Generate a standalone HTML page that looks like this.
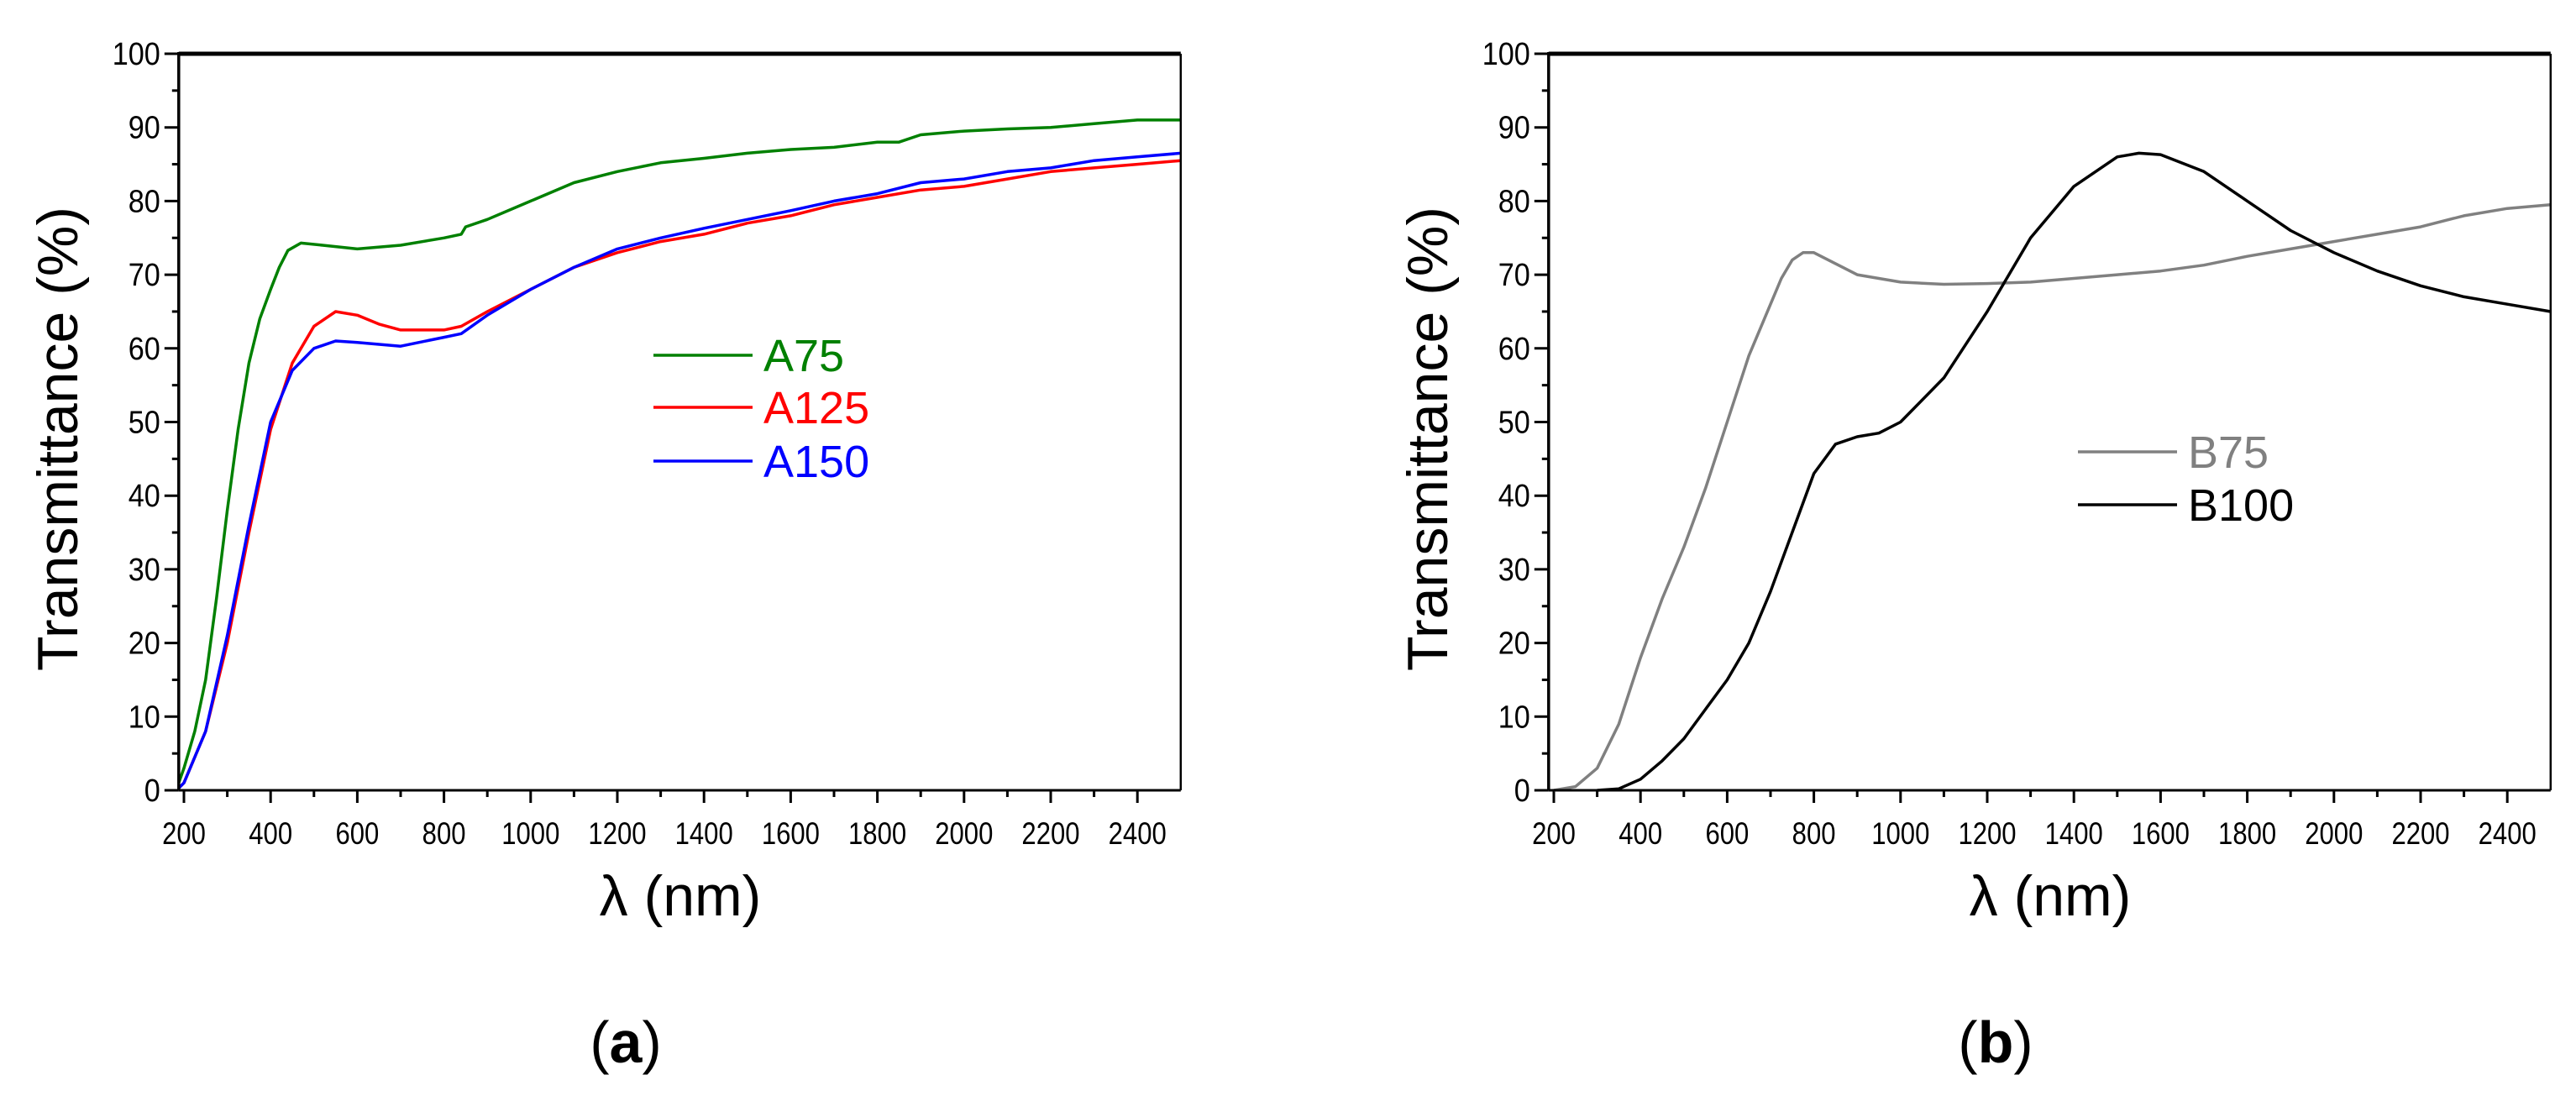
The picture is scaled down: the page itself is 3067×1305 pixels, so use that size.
<!DOCTYPE html>
<html><head><meta charset="utf-8"><style>
html,body{margin:0;padding:0;background:#fff;}
svg{display:block;}
text{font-family:"Liberation Sans",sans-serif;}
</style></head><body>
<svg id="fig" width="3067" height="1305" viewBox="0 0 3067 1305" xmlns="http://www.w3.org/2000/svg"></svg>
<script>
const xTicks=[200,400,600,800,1000,1200,1400,1600,1800,2000,2200,2400];
const yTicks=[0,10,20,30,40,50,60,70,80,90,100];
const a75X=[188,200,225,250,275,300,325,350,375,400,420,440,470,520,600,700,800,840,850,900,1000,1100,1200,1300,1400,1500,1600,1700,1800,1850,1900,2000,2100,2200,2300,2400,2500];
const a75Y=[1,3,8,15,26,38,49,58,64,68,71,73.3,74.3,74,73.5,74,75,75.5,76.5,77.5,80,82.5,84,85.2,85.8,86.5,87,87.3,88,88,89,89.5,89.8,90,90.5,91,91];
const a125X=[188,200,250,300,350,400,450,500,550,600,650,700,800,840,900,1000,1100,1200,1300,1400,1500,1600,1700,1800,1900,2000,2100,2200,2300,2400,2500];
const a125Y=[0.3,1,8,20,35,49,58,63,65,64.5,63.3,62.5,62.5,63,65,68,71,73,74.5,75.5,77,78,79.5,80.5,81.5,82,83,84,84.5,85,85.5];
const a150X=[188,200,250,300,350,400,450,500,550,600,700,800,840,900,1000,1100,1200,1300,1400,1500,1600,1700,1800,1900,2000,2100,2200,2300,2400,2500];
const a150Y=[0.3,1,8,21,36,50,57,60,61,60.8,60.3,61.5,62,64.5,68,71,73.5,75,76.3,77.5,78.7,80,81,82.5,83,84,84.5,85.5,86,86.5];
const b75X=[200,250,300,350,400,450,500,550,600,650,700,725,750,775,800,850,900,1000,1100,1200,1300,1400,1500,1600,1700,1800,1900,2000,2100,2200,2300,2400,2500];
const b75Y=[0,0.5,3,9,18,26,33,41,50,59,66,69.5,72,73,73,71.5,70,69,68.7,68.8,69,69.5,70,70.5,71.3,72.5,73.5,74.5,75.5,76.5,78,79,79.5];
const b100X=[300,350,400,450,500,550,600,650,700,750,800,850,900,950,1000,1100,1200,1300,1400,1500,1550,1600,1700,1800,1900,2000,2100,2200,2300,2400,2500];
const b100Y=[0,0.2,1.5,4,7,11,15,20,27,35,43,47,48,48.5,50,56,65,75,82,86,86.5,86.3,84,80,76,73,70.5,68.5,67,66,65];

const NS="http://www.w3.org/2000/svg";
const svg=document.getElementById('fig');
function mk(tag,attrs,parent){const e=document.createElementNS(NS,tag);for(const k in attrs)e.setAttribute(k,attrs[k]);(parent||svg).appendChild(e);return e;}

function panel(off,name,series,legend,letter){
  const g=mk('g',{});
  
  
  const sx=v=>off+219+(v-200)*103.2/200;
  const sy=v=>941-v*8.77;
  const L=sx(188),R=sx(2500),T=sy(100),B=sy(0);
  for(let v=5;v<100;v+=10){const t=mk('line',{x1:L-8,x2:L,y1:sy(v),y2:sy(v),stroke:'#000','stroke-width':3},g);}
  for(let v=300;v<2500;v+=200){const t=mk('line',{x1:sx(v),x2:sx(v),y1:B,y2:B+8,stroke:'#000','stroke-width':3},g);}
  yTicks.forEach(v=>{
    const t=mk('line',{x1:L-17,x2:L,y1:sy(v),y2:sy(v),stroke:'#000','stroke-width':3},g);
    
    const tx=mk('text',{x:L-22,y:sy(v)+13,'text-anchor':'end','font-size':38,fill:'#000',transform:`translate(${L-22},0) scale(0.9,1) translate(${-(L-22)},0)`},g);
    tx.textContent=v;
  });
  xTicks.forEach(v=>{
    const t=mk('line',{x1:sx(v),x2:sx(v),y1:B,y2:B+15,stroke:'#000','stroke-width':3},g);
    
    const tx=mk('text',{x:sx(v),y:1005,'text-anchor':'middle','font-size':37,fill:'#000',transform:`translate(${sx(v)},0) scale(0.84,1) translate(${-sx(v)},0)`},g);
    tx.textContent=v;
  });
  series.forEach(s=>{
    const pts=s.x.map((v,i)=>sx(v).toFixed(1)+','+sy(s.y[i]).toFixed(1)).join(' ');
    const p=mk('polyline',{points:pts,fill:'none',stroke:s.c,'stroke-width':3.5,'stroke-linejoin':'round'},g);
    
  });
  const f1=mk('line',{x1:L,x2:R,y1:T,y2:T,stroke:'#000','stroke-width':5},g);
  const f2=mk('line',{x1:R,x2:R,y1:T,y2:B,stroke:'#000','stroke-width':2.5},g);
  const f3=mk('line',{x1:L,x2:L,y1:T-2,y2:B,stroke:'#000','stroke-width':3.5},g);
  const f4=mk('line',{x1:L,x2:R,y1:B,y2:B,stroke:'#000','stroke-width':3},g);
  legend.forEach(l=>{
    const ln=mk('line',{x1:off+l.x,x2:off+l.x+118,y1:l.y,y2:l.y,stroke:l.c,'stroke-width':3.5},g);
    
    const t=mk('text',{x:off+l.x+131,y:l.y+19,'font-size':54,fill:l.c},g);
    t.textContent=l.n;
  });
  const yt=mk('text',{x:0,y:0,'font-size':68,fill:'#000','text-anchor':'middle',transform:`translate(${off+92},${(T+B)/2+20}) rotate(-90)`},g);
  yt.textContent='Transmittance (%)';
  const xt=mk('text',{x:off+810,y:1090,'font-size':68,fill:'#000','text-anchor':'middle'},g);
  xt.textContent='λ (nm)';
  const lt=mk('text',{x:off+745,y:1265,'font-size':70,fill:'#000','text-anchor':'middle','font-family':'Liberation Serif, serif'},g);
  lt.innerHTML='(<tspan font-weight="bold">'+letter+'</tspan>)';
}
panel(0,'panel-a',[
  {n:'A75',c:'#008000',x:a75X,y:a75Y},
  {n:'A125',c:'#ff0000',x:a125X,y:a125Y},
  {n:'A150',c:'#0000ff',x:a150X,y:a150Y}],
  [{n:'A75',c:'#008000',x:778,y:423},{n:'A125',c:'#ff0000',x:778,y:485},{n:'A150',c:'#0000ff',x:778,y:549}],'a');
panel(1631,'panel-b',[
  {n:'B75',c:'#808080',x:b75X,y:b75Y},
  {n:'B100',c:'#000000',x:b100X,y:b100Y}],
  [{n:'B75',c:'#808080',x:843,y:538},{n:'B100',c:'#000000',x:843,y:601}],'b');
</script>
</body></html>
